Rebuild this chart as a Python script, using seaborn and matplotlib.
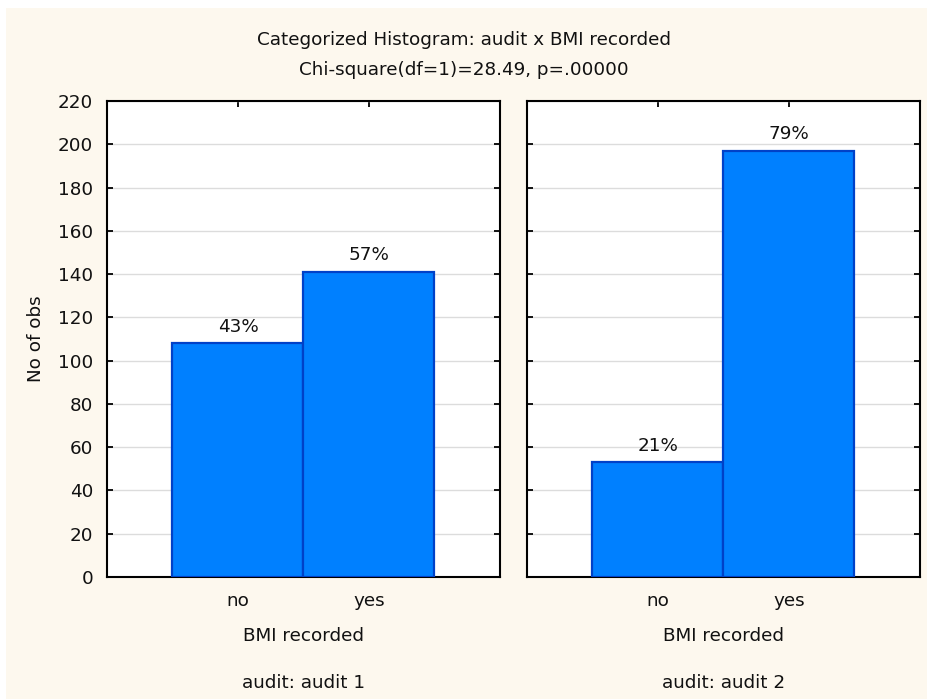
import matplotlib
matplotlib.use("Agg")
import matplotlib.pyplot as plt
import seaborn as sns
import pandas as pd
from matplotlib.patches import Rectangle

# Counts of observations by BMI-recorded status, per audit round
categories = ["no", "yes"]
audit1_counts = [108, 141]
audit2_counts = [53, 197]
panel_titles = ["audit: audit 1", "audit: audit 2"]
y_ticks = [0, 20, 40, 60, 80, 100, 120, 140, 160, 180, 200, 220]

sns.set_theme(style="white")
plt.rcParams["font.family"] = ["DejaVu Sans"]

cream = "#FDF8EE"
bar_fill = "#0080FF"
bar_edge = "#0041C8"
txt = "#111111"
fs = 13.2

fig = plt.figure(figsize=(9.28, 6.99), dpi=100, facecolor="white")
fig.patches.append(Rectangle((6 / 928, 0), 1, 1 - 8 / 699, transform=fig.transFigure,
                             facecolor=cream, edgecolor="none", zorder=-10))

fig.text(0.5, 1 - 40 / 699, "Categorized Histogram: audit x BMI recorded",
         ha="center", va="center", fontsize=fs, color=txt)
fig.text(0.5, 1 - 70 / 699, "Chi-square(df=1)=28.49, p=.00000",
         ha="center", va="center", fontsize=fs, color=txt)

ax_bottom = 1 - 577 / 699
ax_height = 476 / 699
ax_width = 393 / 928
lefts = [107 / 928, 527 / 928]

for i, (left, counts, ptitle) in enumerate(zip(lefts, [audit1_counts, audit2_counts], panel_titles)):
    ax = fig.add_axes([left, ax_bottom, ax_width, ax_height])
    ax.set_facecolor("white")
    df = pd.DataFrame({"BMI recorded": categories, "count": counts})
    sns.barplot(data=df, x="BMI recorded", y="count", ax=ax, width=1.0,
                color=bar_fill, edgecolor=bar_edge, linewidth=1.6, saturation=1,
                zorder=3)
    ax.set_xlim(-1, 2)
    ax.set_ylim(0, 220)
    ax.set_yticks(y_ticks)
    ax.yaxis.grid(True, color="#DCDCDC", linewidth=1.0, zorder=0)
    ax.set_axisbelow(True)
    for s in ax.spines.values():
        s.set_color("black")
        s.set_linewidth(1.5)
    ax.tick_params(axis="both", direction="in", length=4, width=1.3, color="black",
                   top=True, right=True, bottom=True, left=True,
                   labelsize=fs, labelcolor=txt)
    ax.tick_params(axis="x", pad=11)
    ax.tick_params(axis="y", pad=10)
    if i == 0:
        ax.set_ylabel("No of obs", fontsize=fs, color=txt, labelpad=9)
    else:
        ax.set_ylabel("")
        ax.set_yticklabels([])
    ax.set_xlabel("BMI recorded", fontsize=fs, color=txt, labelpad=12)

    total = sum(counts)
    for j, c in enumerate(counts):
        ax.text(j, c + 3.5, f"{round(100 * c / total)}%", ha="center", va="bottom",
                fontsize=fs, color=txt, zorder=5)

    fig.text(left + ax_width / 2, 1 - 683 / 699, ptitle, ha="center", va="center",
             fontsize=fs, color=txt)

fig.savefig("out.png", dpi=100, facecolor=fig.get_facecolor())
